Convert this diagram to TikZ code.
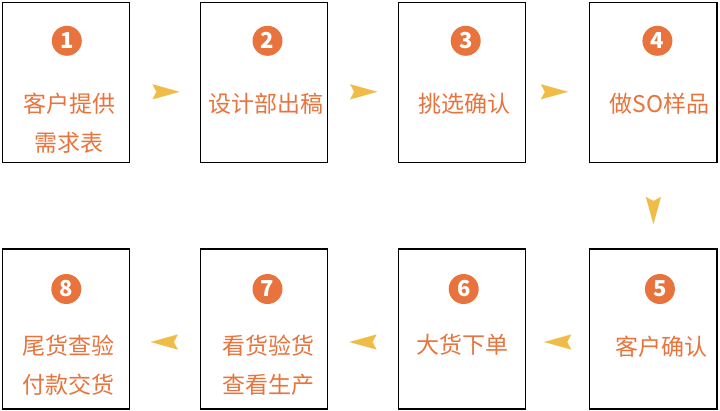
\documentclass[tikz,border=0pt]{standalone}
\usepackage{fontspec}
\setmainfont{Noto Sans CJK SC}
\usetikzlibrary{matrix,arrows.meta}
\definecolor{stepor}{HTML}{E8733C}
\definecolor{tipyel}{HTML}{F0BC48}
\tikzset{
  stepbox/.style={draw,line width=1.2pt,minimum width=127pt,minimum height=160pt,inner sep=0pt,outer sep=0pt},
  num/.style={circle,fill=stepor,text=white,minimum size=30pt,inner sep=0pt,font=\fontsize{22}{22}\bfseries},
  steptext/.style={text=stepor,align=center,font=\fontsize{23}{39}\selectfont},
  tip/.style={color=tipyel,line width=0.01pt,-{Stealth[length=27pt,width=15pt,inset=4pt]}},
  gap/.style 2 args={shorten <=#1,shorten >=#2},
  lower/.style={transform canvas={yshift=#1}}
}

\begin{document}
\begin{tikzpicture}[x=1pt,y=-1pt,ampersand replacement=\&]
  \useasboundingbox (0,0) rectangle (720,410);
  \matrix(m)[matrix of nodes,nodes in empty cells,row sep=85pt,column sep=69.5pt,
    nodes={stepbox},anchor=north west,inner sep=0pt] at (2,2)
  {  \& \& \&[-6pt] \\
     \& \& \&[-6pt] \\};
  % numbers
  \node[num] (n1) at ([shift={(0.5,38)}]m-1-1.north) {1};
  \node[num] (n2) at ([shift={(3.5,38)}]m-1-2.north) {2};
  \node[num] (n3) at ([shift={(4,38)}]m-1-3.north) {3};
  \node[num] (n4) at ([shift={(4,38)}]m-1-4.north) {4};
  \node[num] (n5) at ([shift={(6.5,40)}]m-2-4.north) {5};
  \node[num] (n6) at ([shift={(2,40)}]m-2-3.north) {6};
  \node[num] (n7) at ([shift={(3.5,40)}]m-2-2.north) {7};
  \node[num] (n8) at ([shift={(0,40)}]m-2-1.north) {8};
  % labels
  \node[steptext] (t1) at ([shift={(3,120.5)}]m-1-1.north) {客户提供\\需求表};
  \node[steptext] (t2) at ([shift={(1.5,101)}]m-1-2.north) {设计部出稿};
  \node[steptext] (t3) at ([shift={(2.5,101)}]m-1-3.north) {挑选确认};
  \node[steptext] (t4) at ([shift={(6,101)}]m-1-4.north) {做SO样品};
  \node[steptext] (t5) at ([shift={(8,98)}]m-2-4.north) {客户确认};
  \node[steptext] (t6) at ([shift={(1,96)}]m-2-3.north) {大货下单};
  \node[steptext] (t7) at ([shift={(4.5,116.5)}]m-2-2.north) {看货验货\\查看生产};
  \node[steptext] (t8) at ([shift={(2.5,116.5)}]m-2-1.north) {尾货查验\\付款交货};
  \path[tip]
    (m-1-1) edge[gap={23pt}{21pt},lower=-9pt] (m-1-2)
    (m-1-2) edge[gap={23pt}{21pt},lower=-9pt] (m-1-3)
    (m-1-3) edge[gap={16pt}{22pt},lower=-9pt] (m-1-4)
    (m-1-4) edge[gap={33pt}{25pt},lower=0pt] (m-2-4)
    (m-2-4) edge[gap={17pt}{19pt},lower=-13pt] (m-2-3)
    (m-2-3) edge[gap={23pt}{22pt},lower=-13pt] (m-2-2)
    (m-2-2) edge[gap={23pt}{21pt},lower=-13pt] (m-2-1);
\end{tikzpicture}
\end{document}
